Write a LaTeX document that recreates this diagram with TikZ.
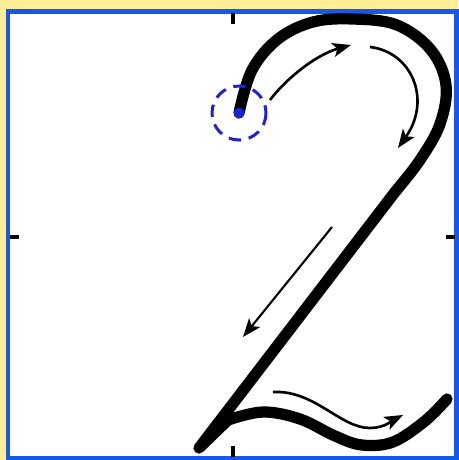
\documentclass[tikz,border=0pt]{standalone}
\usepackage{tikz}
\usetikzlibrary{arrows.meta}
\definecolor{pagebg}{RGB}{255,237,152}
\definecolor{framebl}{RGB}{20,88,236}
\definecolor{startbl}{RGB}{32,32,214}
\tikzset{
  digitstroke/.style={line width=6.4pt, line cap=round, line join=round},
  guidearrow/.style={-{Stealth[length=10.5pt, width=8pt, inset=2.5pt]}, line width=1.5pt},
  gridtick/.style={line width=1.8pt},
  startring/.style={draw=startbl, line width=1.7pt, dash pattern=on 7pt off 4.5pt}
}
\begin{document}
\begin{tikzpicture}[x=0.02cm, y=-0.02cm]
\useasboundingbox (0,0) rectangle (458,460);
\fill[pagebg] (0,0) rectangle (458,460);
\draw[framebl, line width=2.3pt, fill=white] (8,11.5) rectangle (456.5,458.5);
% ticks on the frame
\draw[gridtick] (233,13) -- (233,24);
\draw[gridtick] (233,446) -- (233,457);
\draw[gridtick] (10,237) -- (19,237);
\draw[gridtick] (446,237) -- (455,237);
% the digit
\coordinate (start) at (239,113);
\coordinate (tip) at (199,448);
\draw[digitstroke] plot[smooth, tension=0.6] coordinates {(start) (252,70) (278,39) (313,22) (353,19) (397,25) (431,50) (446,85) (440,124) (420,160) (395,192)}
  -- (tip)
  -- plot[smooth, tension=0.6] coordinates {(228,420) (263,412) (300,419) (335,436) (362,445) (393,442) (425,421) (447,399)};
\draw[startring] (start) circle[radius=27];
\fill[startbl] (start) circle[radius=5.5];
% direction arrows
\draw[guidearrow] (270,100) .. controls (285,80) and (315,55) .. (351,45);
\draw[guidearrow] (370,47) .. controls (412,52) and (432,100) .. (398,148);
\draw[guidearrow, line width=1.2pt] (332,227) -- (243,337);
\draw[guidearrow] (273,392) .. controls (315,390) and (340,428) .. (370,428) .. controls (385,428) and (393,420) .. (403,415);
\end{tikzpicture}
\end{document}
